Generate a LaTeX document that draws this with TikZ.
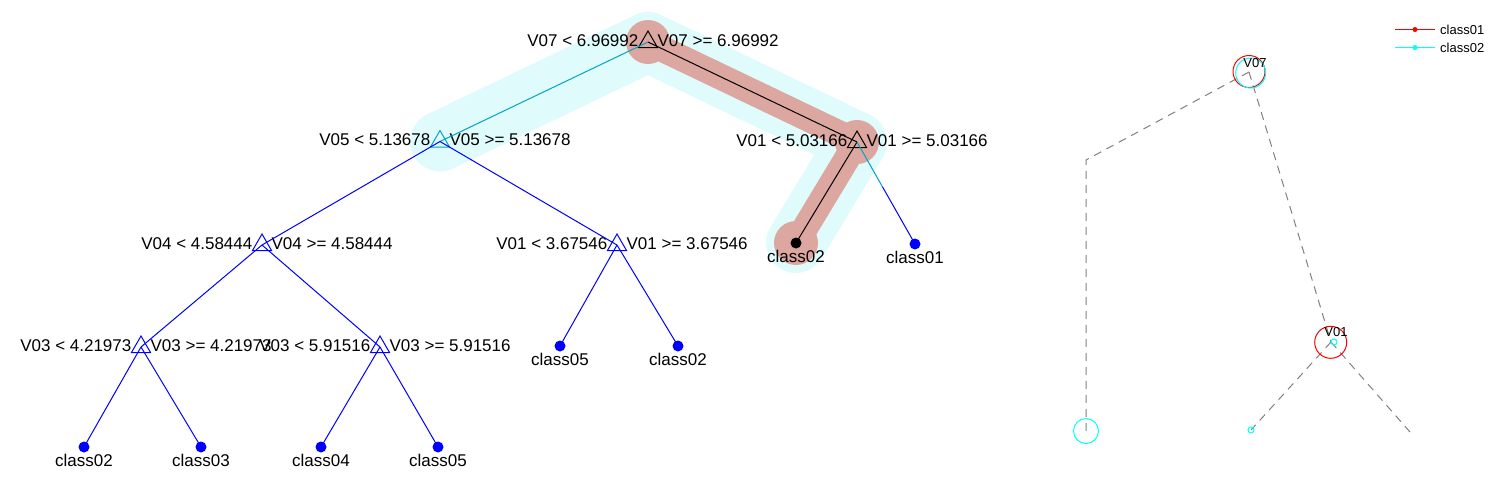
\documentclass[tikz,border=0pt]{standalone}
\usepackage{fontspec}
\setmainfont{Liberation Sans}
\usetikzlibrary{shapes.geometric,backgrounds,calc}
\definecolor{bandcyan}{RGB}{224,251,252}
\definecolor{bandred}{RGB}{219,167,160}
\definecolor{pathteal}{RGB}{0,165,195}
\definecolor{ringcyan}{RGB}{0,255,255}
\definecolor{ringred}{RGB}{255,0,0}
\tikzstyle{every node}=[font=\fontsize{17}{20}\selectfont]
\tikzstyle{splitnode}=[draw,regular polygon,regular polygon sides=3,minimum size=22pt,inner sep=0pt,line width=1pt]
\tikzstyle{leafnode}=[circle,fill=blue,minimum size=11pt,inner sep=0pt]
\tikzstyle{every label}=[inner sep=2.5pt,text=black,yshift=1.5pt]
\tikzstyle{tree edge}=[line width=1pt,blue]
\tikzstyle{guide}=[draw=black!50,dash pattern=on 8pt off 6pt,line width=1pt]
\tikzstyle{ring}=[circle,draw,line width=1pt,inner sep=0pt]
\tikzstyle{small}=[font=\fontsize{13}{15}\selectfont,inner sep=0pt]

\begin{document}
\begin{tikzpicture}[x=1pt,y=-1pt]
  \useasboundingbox (0,0) rectangle (1500,488);

  % splits
  \node[splitnode] (root) at (648,42) [label={[anchor=east]west:V07 < 6.96992},label={[anchor=west]east:V07 >= 6.96992}] {};
  \node[splitnode,draw=pathteal] (v05) at (440,141.5) [label={[anchor=east]west:V05 < 5.13678},label={[anchor=west]east:V05 >= 5.13678}] {};
  \node[splitnode] (v01r) at (857,142) [label={[anchor=east]west:V01 < 5.03166},label={[anchor=west]east:V01 >= 5.03166}] {};
  \node[splitnode,draw=blue] (v04) at (262,245) [label={[anchor=east]west:V04 < 4.58444},label={[anchor=west]east:V04 >= 4.58444}] {};
  \node[splitnode,draw=blue] (v01m) at (617,245) [label={[anchor=east]west:V01 < 3.67546},label={[anchor=west]east:V01 >= 3.67546}] {};
  \node[splitnode,draw=blue] (v03l) at (141,347) [label={[anchor=east]west:V03 < 4.21973},label={[anchor=west]east:V03 >= 4.21973}] {};
  \node[splitnode,draw=blue] (v03r) at (380,347) [label={[anchor=east]west:V03 < 5.91516},label={[anchor=west]east:V03 >= 5.91516}] {};

  % leaves
  \node[leafnode,fill=black,label={[yshift=0pt]below:class02}] (c02a) at (796,243) {};
  \node[leafnode,label={[yshift=0pt]below:class01}] (c01) at (915,244) {};
  \node[leafnode,label={[yshift=0pt]below:class05}] (c05a) at (560,346) {};
  \node[leafnode,label={[yshift=0pt]below:class02}] (c02b) at (678,346) {};
  \node[leafnode,label={[yshift=0pt]below:class02}] (c02c) at (84,447) {};
  \node[leafnode,label={[yshift=0pt]below:class03}] (c03) at (201,447) {};
  \node[leafnode,label={[yshift=0pt]below:class04}] (c04) at (321,447) {};
  \node[leafnode,label={[yshift=0pt]below:class05}] (c05b) at (438,447) {};

  % highlighted path
  \begin{scope}[on background layer]
    \draw[bandcyan,line width=60pt,line cap=round,line join=round] (v05.center) -- (root.center) -- (v01r.center) -- (c02a.center);
    \draw[bandred,line width=26pt,line cap=round,line join=round] (root.center) -- (v01r.center) -- (c02a.center);
    \foreach \n in {root,v01r,c02a}
      \fill[bandred] (\n.center) circle (22pt);
  \end{scope}

  \path[tree edge] (root.center) edge[pathteal] (v05.center)
    (root.center) edge[black] (v01r.center)
    (v01r.center) edge[black] (c02a.center)
    (v05.center) edge (v04.center)
    (v05.center) edge (v01m.center)
    (v04.center) edge (v03l.center)
    (v04.center) edge (v03r.center)
    (v01m.center) edge (c05a.center)
    (v01m.center) edge (c02b.center)
    (v03l.center) edge (c02c.center)
    (v03l.center) edge (c03.center)
    (v03r.center) edge (c04.center)
    (v03r.center) edge (c05b.center);
  \draw[tree edge,pathteal] (v01r.center) -- ($(v01r.center)!0.44!(c01.center)$) coordinate (cut);
  \draw[tree edge] (cut) -- (c01.center);

  % right panel
  \coordinate (t07) at (1249,72);
  \coordinate (bend) at (1086,160);
  \coordinate (endl) at (1086,431);
  \coordinate (t01) at (1331,342);
  \coordinate (endm) at (1251,430);
  \coordinate (endr) at (1410,432);
  \draw[guide] (t07) -- (bend) -- (endl);
  \draw[guide] (t07) -- (t01);
  \draw[guide] (t01) -- (endm);
  \draw[guide] (t01) -- (endr);

  \node[ring,draw=ringred,minimum size=32pt] (r07) at (1249,71.5) {};
  \node[ring,draw=ringcyan,minimum size=30pt] (q07) at (1250.7,73) {};
  \node[small] (n07) at (1255,63) {V07};
  \node[ring,draw=ringred,minimum size=32pt] (r01) at (1330.7,342.3) {};
  \node[ring,draw=ringcyan,minimum size=6pt] (q01) at (1334,342) {};
  \node[small] (n01) at (1336,332) {V01};
  \node[ring,draw=ringcyan,minimum size=25pt] (ql) at (endl) {};
  \node[ring,draw=ringcyan,minimum size=6pt] (qm) at (endm) {};

  % legend
  \coordinate (k1a) at (1395,29.5);
  \coordinate (k1b) at (1435,29.5);
  \coordinate (k2a) at (1395,47.5);
  \coordinate (k2b) at (1435,47.5);
  \draw[ringred,line width=1.3pt] (k1a) -- (k1b);
  \draw[ringcyan,line width=1.3pt] (k2a) -- (k2b);
  \fill[ringred] ($(k1a)!0.5!(k1b)$) circle (2.5pt);
  \fill[ringcyan] ($(k2a)!0.5!(k2b)$) circle (2.5pt);
  \node[small,anchor=west] (l1) at (1440,30) {class01};
  \node[small,anchor=west] (l2) at (1440,48) {class02};
\end{tikzpicture}
\end{document}
